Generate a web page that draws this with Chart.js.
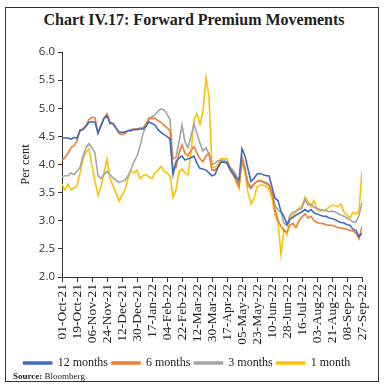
<!DOCTYPE html>
<html>
<head>
<meta charset="utf-8">
<script src="https://cdn.jsdelivr.net/npm/chart.js@4"></script>
<style>
  html, body { margin: 0; padding: 0; background: #fff; }
  #wrap { position: relative; width: 388px; height: 390px; }
  #frame { position: absolute; left: 5px; top: 7px; width: 374px; height: 375px; border: 1.5px solid #333; box-sizing: border-box; }
  #title { position: absolute; left: 0; top: 11px; width: 388px; text-align: center; font-family: "Liberation Serif", serif; font-weight: bold; font-size: 16px; color: #222; }
  #source { position: absolute; left: 13px; top: 371px; font-family: "Liberation Serif", serif; font-size: 9px; color: #222; }
  canvas { position: absolute; left: 0; top: 0; }
</style>
</head>
<body>
<div id="wrap">
  <div id="frame"></div>
  <div id="title">Chart IV.17: Forward Premium Movements</div>
  <canvas id="c" width="388" height="390"></canvas>
  <div id="source"><b>Source:</b> Bloomberg.</div>
</div>
<script>
const tickLabels = ['01-Oct-21','19-Oct-21','06-Nov-21','24-Nov-21','12-Dec-21','30-Dec-21','17-Jan-22','04-Feb-22','22-Feb-22','12-Mar-22','30-Mar-22','17-Apr-22','05-May-22','23-May-22','10-Jun-22','28-Jun-22','16-Jul-22','03-Aug-22','21-Aug-22','08-Sep-22','27-Sep-22'];
const pointsPerLabel = 5;

const months12 = [4.48,4.47,4.47,4.45,4.48,4.47,4.6,4.62,4.68,4.75, 4.76,4.75,4.56,4.7,4.82,4.87,4.73,4.73,4.65,4.58, 4.57,4.58,4.6,4.6,4.62,4.62,4.63,4.63,4.68,4.76, 4.73,4.7,4.62,4.57,4.53,4.5,4.45,3.82,4.05,4.12, 4.15,4.08,4.1,4.12,4.15,4.02,3.93,3.92,3.9,3.85, 3.8,3.82,3.95,4.04,4.04,4.03,3.92,3.85,3.77,3.72, 4.28,4.15,3.92,3.7,3.75,3.83,3.84,3.82,3.8,3.8, 3.6,3.4,3.36,3.16,3.08,2.93,3.03,3.06,3.1,3.13, 3.16,3.2,3.16,3.2,3.14,3.12,3.1,3.08,3.08,3.05, 3.04,3.02,2.99,2.97,2.96,2.93,2.92,2.85,2.83,2.72, 2.78];
const months6 = [4.07,4.13,4.2,4.3,4.33,4.42,4.62,4.63,4.7,4.8, 4.84,4.83,4.55,4.68,4.83,4.9,4.75,4.73,4.65,4.55, 4.53,4.55,4.6,4.62,4.63,4.63,4.65,4.65,4.72,4.83, 4.82,4.82,4.78,4.75,4.7,4.65,4.6,3.92,3.95,4.2, 4.35,4.2,4.15,4.25,4.32,4.2,4.1,4.05,4.15,4.2, 3.9,3.9,3.95,4.05,4.05,4.02,3.9,3.82,3.72,3.62, 4.1,3.9,3.68,3.6,3.65,3.7,3.72,3.7,3.68,3.65, 3.5,3.2,3.0,2.9,2.82,2.8,2.92,2.95,2.88,3.0, 3.07,3.12,3.05,3.08,3.0,2.97,2.95,2.95,2.93,2.92, 2.92,2.9,2.88,2.87,2.86,2.85,2.83,2.82,2.78,2.68, 2.9];
const months3 = [3.78,3.8,3.8,3.85,3.82,3.88,3.95,4.15,4.3,4.37, 4.3,4.2,3.8,3.75,3.82,3.88,3.82,3.76,3.72,3.68, 3.7,3.72,3.8,3.92,4.05,4.15,4.32,4.55,4.68,4.8, 4.85,4.88,4.95,4.99,4.97,4.9,4.8,4.1,4.12,4.4, 4.7,4.4,4.3,4.5,4.72,4.55,4.38,4.24,4.3,4.18, 4.0,4.02,4.07,4.07,4.07,4.05,3.96,3.9,3.82,3.65, 4.15,3.95,3.62,3.57,3.65,3.7,3.71,3.68,3.66,3.62, 3.5,3.27,3.19,3.15,2.95,2.92,3.1,3.15,3.18,3.2, 3.22,3.38,3.28,3.3,3.24,3.22,3.2,3.19,3.18,3.16, 3.17,3.16,3.13,3.1,3.08,3.05,3.02,2.98,2.98,3.1, 3.32];
const month1 = [3.65,3.55,3.65,3.55,3.58,3.62,3.85,4.1,4.22,4.28, 3.98,3.7,3.45,3.6,3.85,4.1,3.75,3.62,3.5,3.35, 3.45,3.55,3.75,3.9,3.85,3.9,3.75,3.8,3.82,3.78, 3.75,3.85,3.9,3.97,3.88,3.85,3.8,3.42,3.55,3.88, 3.92,3.85,3.82,4.2,4.8,4.9,4.72,4.95,5.55,5.2, 3.95,3.95,4.0,4.1,4.1,4.1,3.95,3.9,3.7,3.57, 4.05,3.85,3.5,3.3,3.4,3.6,3.64,3.63,3.62,3.55, 3.4,3.1,2.97,2.4,2.85,2.75,3.04,3.1,3.15,3.22, 3.27,3.42,3.35,3.25,3.36,3.2,3.17,3.18,3.2,3.24, 3.27,3.27,3.25,3.3,3.15,3.1,3.05,3.15,3.12,3.18, 3.88];

const seriesNames = ['12 months','6 months','3 months','1 month'];
const seriesColors = ['#3F6BBF','#ED7D31','#A5A5A5','#FFC000'];
const seriesData = [months12, months6, months3, month1];

const toPoints = arr => arr.map((v, i) => ({x: i, y: v}));

new Chart(document.getElementById('c'), {
  type: 'line',
  data: {
    datasets: seriesData.map((arr, k) => ({
      label: seriesNames[k],
      data: toPoints(arr),
      borderColor: seriesColors[k],
      backgroundColor: seriesColors[k],
      borderWidth: 1.6,
      pointRadius: 0,
      tension: 0
    }))
  },
  options: {
    responsive: false,
    animation: false,
    layout: { padding: { left: 12, right: 26, top: 52, bottom: 11 } },
    plugins: {
      legend: {
        position: 'bottom',
        labels: {
          boxWidth: 28, boxHeight: 2, padding: 4,
          color: '#222',
          font: { family: 'Liberation Serif', size: 12 }
        }
      },
      tooltip: { enabled: false }
    },
    scales: {
      x: {
        type: 'linear',
        min: 0, max: (tickLabels.length - 1) * pointsPerLabel,
        afterBuildTicks: s => { s.ticks = tickLabels.map((_, j) => ({ value: j * pointsPerLabel })); },
        afterFit: s => { s.height = 76; },
        ticks: {
          autoSkip: false, maxRotation: 90, minRotation: 90,
          color: '#222', padding: 2,
          font: { family: 'Liberation Serif', size: 13.5 },
          callback: v => tickLabels[Math.round(v / pointsPerLabel)]
        },
        grid: { drawOnChartArea: false, drawTicks: true, tickLength: 5, color: '#333' },
        border: { display: true, color: '#333', width: 1 }
      },
      y: {
        min: 2, max: 6,
        afterFit: s => { s.width = 50; },
        ticks: {
          stepSize: 0.5, color: '#333', padding: 3,
          font: { family: 'Open Sans', size: 11.5 },
          callback: v => v.toFixed(1)
        },
        title: { display: true, text: 'Per cent', color: '#222', padding: { top: 6, bottom: 0 }, font: { family: 'Liberation Serif', size: 12.5 } },
        grid: { drawOnChartArea: false, drawTicks: true, tickLength: 4, color: '#333' },
        border: { display: true, color: '#333', width: 1 }
      }
    }
  }
});
</script>
</body>
</html>
